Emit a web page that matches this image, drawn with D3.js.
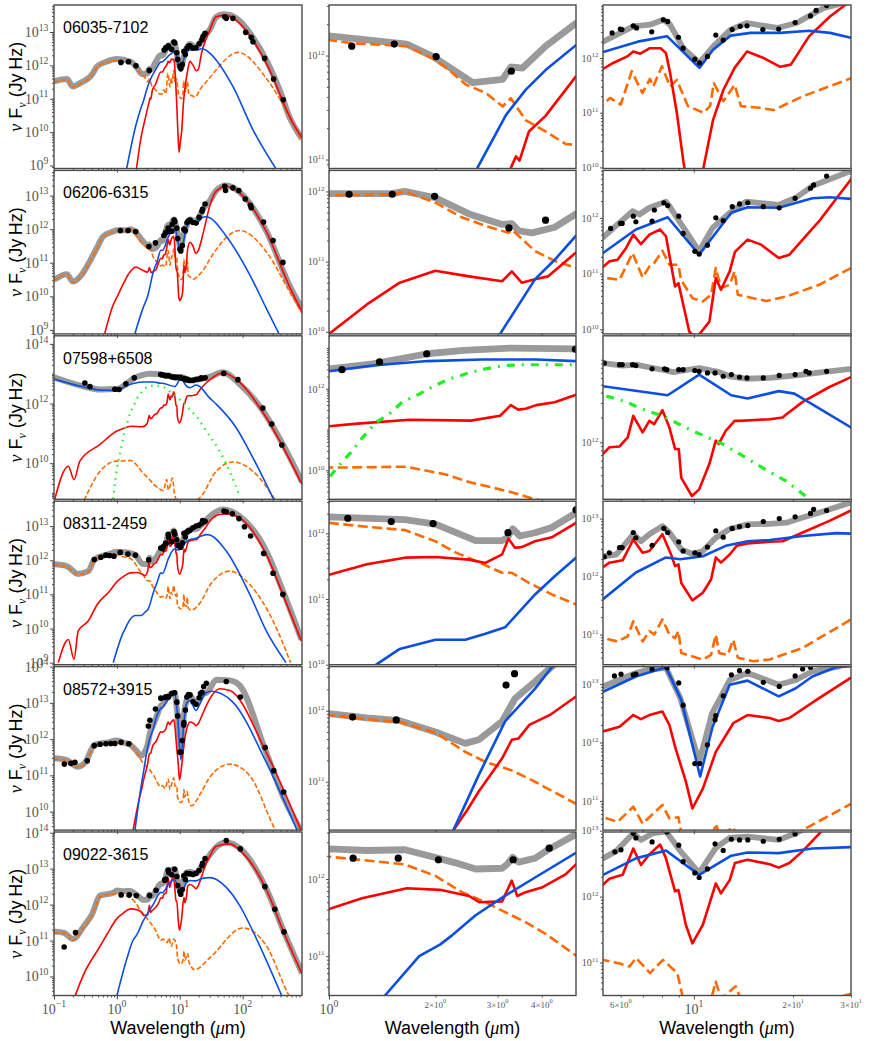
<!DOCTYPE html>
<meta charset="utf-8">
<style>
  body{margin:0;background:#fff}
  svg{display:block}
  .lbl{font-family:"Liberation Sans",Arial,sans-serif;fill:#000}
  .tk{font-family:"Liberation Serif",serif;fill:#555}
</style>
<svg width="872" height="1041"></svg>
<script src="https://d3js.org/d3.v7.min.js"></script>
<script>
// every series: [wavelength (micron), log10 nuFnu (Jy Hz)]
// 06035-7102
const tot06035 = [[0.1,11.52],[0.16,11.59],[0.2,11.37],[0.26,11.47],[0.4,11.72],[0.48,11.96],[0.68,12.11],[1.0,12.19],[1.66,12.11],[1.97,11.99],[2.55,11.74],[3.1,11.77],[3.27,11.89],[3.53,11.88],[4.1,12.09],[5.0,12.31],[5.3,12.30],[6.55,12.58],[7.36,12.61],[8.08,12.70],[8.47,12.61],[9.28,12.18],[10.4,11.91],[11.44,12.21],[12.93,12.52],[14.5,12.64],[17.9,12.55],[20.5,12.64],[24.7,12.91],[27,12.97],[30,13.07],[38,13.45],[50,13.53],[60,13.52],[90,13.33],[150,12.8],[238,12.16],[400,11.2],[557,10.45],[880,9.8]]
const gal06035 = [[0.1,11.50],[0.16,11.57],[0.2,11.35],[0.26,11.45],[0.4,11.70],[0.48,11.94],[0.68,12.09],[1.0,12.15],[1.15,12.12],[1.66,12.09],[1.97,11.97],[2.19,11.86],[2.44,11.72],[2.78,11.64],[3.1,11.51],[3.27,11.59],[3.6,11.38],[4.1,11.27],[4.67,11.15],[5.0,11.14],[5.3,11.15],[5.57,11.27],[6.0,11.15],[6.48,11.76],[6.98,11.36],[7.36,11.62],[7.53,11.48],[8.0,11.85],[8.47,11.48],[8.88,11.60],[9.6,11.12],[10.7,11.0],[11.2,11.12],[11.5,11.54],[12.3,11.21],[13.3,11.51],[13.9,11.12],[15.8,11.09],[17.5,11.05],[21.4,11.30],[30,11.63],[38,11.87],[84.5,12.39],[237,11.62],[557,10.47],[880,9.72]]
const sb06035 = [[2.05,8.9],[2.4,9.8],[2.9,10.5],[3.27,10.92],[3.38,11.03],[3.46,10.99],[3.68,11.27],[4.1,11.42],[5.0,11.80],[5.3,11.80],[5.69,11.91],[6.28,12.03],[6.55,12.12],[6.88,12.08],[7.36,12.18],[7.93,12.18],[8.23,12.09],[8.47,11.73],[8.88,11.0],[9.3,10.1],[9.75,9.4],[10.2,9.7],[10.7,10.0],[11.44,10.87],[12.3,11.42],[13.3,11.82],[14.5,12.12],[16.3,12.0],[18.3,11.84],[19.7,11.88],[22.4,12.40],[25.9,12.76],[28.8,12.97],[38,13.46],[55,13.51],[89.6,13.26],[238,12.07],[630,10.27],[880,9.83]]
const agn06035 = [[1.43,8.9],[2.0,10.2],[2.32,10.62],[2.63,10.92],[3.17,11.43],[3.6,11.67],[4.1,11.86],[5.0,12.10],[5.3,12.11],[6.76,12.30],[8.29,12.40],[10.4,11.82],[11.44,12.15],[12.93,12.41],[14.85,12.46],[18.3,12.46],[22.4,12.50],[25.9,12.46],[30,12.37],[70,11.37],[146,10.07],[340,8.9]]
const dat06035 = [[1.16,12.09],[1.53,12.11],[2.01,11.99],[3.28,11.85],[5.65,12.46],[5.98,12.53],[6.05,12.52],[6.55,12.59],[6.70,12.55],[7.45,12.48],[8.08,12.70],[8.33,12.67],[8.98,12.38],[9.28,12.18],[10.07,11.98],[10.41,11.91],[11.0,12.03],[11.66,12.42],[12.28,12.33],[13.08,12.52],[13.83,12.58],[14.5,12.59],[16.2,12.52],[18.1,12.53],[20.3,12.65],[22.6,12.77],[23.5,12.87],[25.3,12.96],[51.8,13.46],[55,13.41],[70,13.41],[112,12.99],[137,12.84],[146,12.71],[224,12.21],[311,11.59],[442,10.97]]

// 06206-6315
const tot06206 = [[0.1,10.49],[0.16,10.66],[0.2,10.44],[0.275,10.64],[0.37,11.04],[0.48,11.44],[0.61,11.79],[0.875,11.93],[1.0,11.97],[1.5,11.97],[1.64,12.0],[2.0,11.91],[2.49,11.68],[3.09,11.53],[3.29,11.54],[3.44,11.44],[3.75,11.41],[4.36,11.49],[5.0,11.68],[5.3,11.65],[6.52,12.12],[6.83,12.06],[7.33,12.18],[8.23,12.29],[8.43,12.21],[9.46,11.76],[10.38,11.40],[11.4,11.82],[12.85,12.09],[14.4,12.29],[18.1,12.23],[20.4,12.36],[22.9,12.57],[30,12.84],[38,13.15],[55,13.3],[90,13.1],[238,11.95],[557,10.32],[880,9.62]]
const gal06206 = [[0.1,10.47],[0.16,10.64],[0.2,10.42],[0.275,10.62],[0.37,11.02],[0.48,11.42],[0.61,11.77],[0.875,11.92],[1.0,11.95],[1.15,11.95],[1.52,11.96],[1.64,12.0],[2.0,11.84],[2.38,11.63],[2.77,11.51],[3.22,11.41],[3.3,11.45],[3.83,11.15],[4.36,11.01],[5.0,10.91],[5.3,10.93],[5.95,10.89],[6.52,11.37],[6.99,10.93],[7.33,11.13],[7.58,11.19],[8.03,11.41],[8.43,11.16],[8.98,11.16],[9.14,10.89],[9.9,10.56],[10.65,10.50],[11.28,10.62],[11.66,11.10],[12.09,10.74],[12.85,10.80],[13.3,11.04],[13.6,10.62],[15.15,10.56],[16.6,10.51],[19.1,10.59],[24,10.80],[30,11.10],[38,11.39],[89.6,11.96],[238,11.33],[557,10.14],[880,9.49]]
const sb06206 = [[0.64,8.88],[0.875,9.75],[1.0,9.97],[1.28,10.39],[1.585,10.70],[2.0,10.87],[2.49,10.79],[3.09,10.72],[3.29,10.86],[3.51,10.70],[3.83,10.75],[4.17,10.79],[5.0,11.13],[5.3,11.12],[5.54,11.22],[5.87,11.25],[6.23,11.46],[6.55,11.70],[6.91,11.53],[7.33,11.70],[7.9,11.79],[8.23,11.67],[8.77,10.77],[8.98,10.83],[9.69,9.96],[10.05,9.87],[10.38,9.91],[11.15,10.14],[11.66,10.92],[12.09,10.71],[12.85,11.04],[13.33,11.39],[14.56,11.61],[16.0,11.52],[18.1,11.28],[19.5,11.34],[24,11.94],[30,12.69],[38,13.13],[55,13.28],[89.6,13.08],[238,11.93],[557,10.29],[880,9.54]]
const agn06206 = [[1.93,8.88],[2.63,9.67],[3.05,9.97],[3.83,10.75],[4.36,11.03],[5.0,11.37],[5.3,11.37],[6.67,11.79],[8.33,12.01],[10.38,11.34],[12.99,12.09],[14.56,12.19],[18.1,12.18],[22.9,12.35],[25.8,12.37],[30,12.34],[55,11.79],[130,10.64],[238,9.64],[380,8.88]]
const dat06206 = [[1.14,11.96],[1.51,11.96],[1.99,11.93],[3.23,11.48],[4.1,11.59],[5.59,11.81],[5.99,11.90],[6.06,11.90],[6.55,12.03],[6.67,11.93],[7.47,11.94],[7.59,12.14],[8.11,12.27],[8.33,12.22],[9.0,12.03],[9.28,11.72],[10.07,11.40],[10.38,11.35],[11.0,11.51],[11.66,12.0],[12.28,11.95],[13.08,12.20],[13.76,12.25],[14.58,12.27],[16.25,12.20],[18.17,12.18],[20.3,12.35],[22.6,12.53],[23.1,12.59],[25.3,12.75],[52,13.28],[53.5,13.15],[70,13.23],[87,13.15],[110,12.9],[133,12.71],[137,12.64],[215,12.21],[305,11.66],[437,11.01]]

// 07598+6508
const tot07598 = [[0.1,12.88],[0.29,12.58],[0.54,12.47],[0.93,12.49],[1.0,12.49],[1.33,12.61],[1.9,12.86],[2.4,12.94],[3.27,13.0],[4.98,12.98],[5.3,12.96],[6.08,12.93],[6.67,12.94],[7.5,12.90],[8.23,12.87],[8.67,12.85],[10.38,12.90],[11.94,12.85],[12.85,12.80],[14.4,12.77],[17,12.78],[20.4,12.81],[24.6,12.85],[30,12.89],[48,13.05],[90,12.65],[210,11.76],[437,10.63],[880,9.38]]
const gal07598 = [[0.3,8.75],[0.54,9.73],[1.0,10.07],[1.12,10.07],[1.65,10.09],[2.14,9.90],[2.52,9.70],[3.2,9.49],[3.83,9.29],[4.5,9.18],[5.5,9.08],[6.2,9.45],[6.6,9.1],[7.7,9.5],[8.2,9.0],[10,8.6],[20.7,8.84],[38,9.73],[70,10.04],[146,9.73],[340,8.73]]
const sb07598 = [[0.1,8.7],[0.169,9.90],[0.208,9.45],[0.258,10.07],[0.54,10.63],[1.0,11.08],[1.18,11.14],[1.69,11.24],[2.52,11.22],[3.05,11.34],[3.27,11.60],[3.43,11.49],[3.6,11.51],[3.86,11.60],[4.35,11.67],[4.98,11.85],[5.3,11.86],[5.54,11.94],[5.95,11.95],[6.3,12.06],[6.55,12.32],[6.99,12.12],[7.33,12.26],[7.58,12.22],[8.03,12.39],[8.43,12.18],[8.77,11.92],[9.0,11.92],[9.16,11.57],[9.87,11.35],[10.38,11.43],[11.15,11.74],[11.66,12.02],[11.9,11.98],[12.5,12.14],[13.3,12.26],[13.76,12.26],[17,12.28],[18.6,12.30],[19.1,12.34],[21.4,12.49],[25.8,12.67],[30,12.79],[48,13.03],[90,12.71],[238,11.53],[880,9.29]]
const agn07598 = [[0.1,12.82],[0.29,12.56],[0.54,12.45],[0.93,12.44],[1.0,12.43],[1.33,12.57],[1.9,12.68],[2.71,12.72],[3.86,12.72],[4.98,12.68],[5.3,12.68],[8.33,12.57],[10.38,12.82],[12.99,12.57],[14.56,12.53],[18.1,12.62],[20.2,12.59],[30,12.18],[38,11.98],[79,11.19],[146,10.18],[320,8.73]]
const pol07598 = [[0.875,8.8],[1.0,9.82],[1.075,10.15],[1.154,10.44],[1.24,10.79],[1.36,11.18],[1.48,11.38],[1.61,11.67],[1.81,11.88],[1.99,12.08],[2.19,12.24],[2.49,12.39],[2.77,12.49],[3.12,12.57],[3.51,12.59],[4.35,12.59],[4.98,12.59],[5.54,12.55],[6.23,12.49],[6.99,12.40],[8.03,12.32],[9.9,12.14],[12.23,11.98],[13.76,11.86],[15.43,11.74],[17,11.64],[19.1,11.53],[21.2,11.39],[26.5,11.08],[43,10.41],[62,9.73],[90,8.89]]
const dat07598 = [[0.31,12.69],[0.373,12.57],[0.93,12.48],[1.088,12.47],[1.39,12.66],[1.89,12.86],[4.98,12.97],[5.35,12.96],[5.95,12.94],[6.06,12.94],[6.52,12.94],[6.67,12.93],[7.47,12.89],[8.15,12.89],[8.28,12.88],[9.0,12.88],[9.28,12.88],[10.07,12.87],[10.38,12.86],[11.0,12.84],[11.6,12.84],[12.28,12.80],[13.0,12.82],[13.76,12.79],[14.5,12.78],[16.25,12.78],[18.17,12.81],[20.3,12.82],[21.9,12.86],[22.4,12.84],[25.3,12.86],[50,13.01],[84,12.80],[210,11.85],[290,11.31],[420,10.61]]

// 08311-2459
const tot08311 = [[0.1,11.88],[0.159,11.83],[0.24,11.60],[0.35,11.68],[0.44,12.02],[0.72,12.17],[1.0,12.25],[1.134,12.24],[1.64,12.21],[2.0,12.14],[2.6,11.89],[3.09,11.89],[3.19,11.93],[3.31,12.07],[3.47,11.96],[3.83,12.01],[4.27,12.09],[5.0,12.31],[5.3,12.35],[5.81,12.38],[6.55,12.73],[6.91,12.61],[7.33,12.73],[8.03,12.87],[8.43,12.76],[9.16,12.47],[9.9,12.39],[10.65,12.44],[11.66,12.67],[12.85,12.82],[14.56,12.90],[17,12.91],[19.1,12.93],[21.4,13.02],[24,13.10],[30,13.28],[48.5,13.49],[89.6,13.29],[238,12.27],[437,11.10],[860,9.68]]
const gal08311 = [[0.1,11.86],[0.159,11.81],[0.24,11.58],[0.35,11.66],[0.44,12.0],[0.72,12.15],[1.0,12.16],[1.28,12.10],[1.64,12.05],[2.0,11.88],[2.28,11.71],[2.6,11.58],[3.09,11.40],[3.29,11.40],[3.67,11.25],[4.27,11.07],[5.0,10.92],[5.3,10.94],[5.87,10.88],[6.3,10.97],[6.55,11.23],[6.99,10.88],[7.33,11.06],[7.58,11.0],[8.03,11.26],[8.43,11.0],[8.77,10.94],[8.98,11.06],[9.16,10.68],[10.65,10.57],[11.28,10.65],[11.66,11.0],[11.94,10.68],[12.68,10.65],[13.17,10.91],[13.6,10.60],[15.15,10.54],[17,10.57],[21.4,10.77],[30,11.26],[62.7,11.68],[130,11.29],[305,10.22],[580,9.0]]
const sb08311 = [[0.117,9.0],[0.169,9.68],[0.208,9.10],[0.243,9.93],[0.35,10.22],[0.49,10.71],[0.77,11.10],[1.0,11.37],[1.28,11.53],[1.64,11.63],[2.0,11.64],[2.49,11.60],[2.77,11.55],[3.09,11.68],[3.22,11.92],[3.36,11.78],[3.51,11.79],[3.83,11.88],[4.27,11.94],[5.0,12.16],[5.3,12.16],[5.54,12.24],[6.08,12.28],[6.55,12.64],[6.99,12.41],[7.33,12.44],[8.03,12.73],[8.53,12.38],[8.77,12.18],[8.98,12.21],[9.16,11.89],[9.9,11.59],[10.65,11.72],[11.28,11.95],[11.66,12.33],[12.09,12.24],[12.85,12.38],[13.49,12.53],[14.56,12.57],[17,12.60],[18.6,12.61],[21.4,12.76],[25.8,12.96],[30,13.14],[43,13.34],[55,13.36],[89.6,13.24],[238,12.17],[437,11.0],[860,9.63]]
const agn08311 = [[0.875,9.0],[1.26,9.88],[1.36,10.0],[1.585,10.24],[2.0,10.38],[2.43,10.38],[2.77,10.47],[3.15,10.57],[3.83,11.07],[4.36,11.35],[5.0,11.63],[5.3,11.61],[6.67,12.07],[8.23,12.33],[9.1,12.30],[10.65,12.35],[12.5,12.53],[14.56,12.61],[17,12.63],[21.4,12.70],[27,12.75],[30,12.74],[55,12.27],[130,11.0],[238,9.93],[490,9.0]]
const dat08311 = [[0.437,12.02],[0.557,12.09],[0.67,12.15],[0.77,12.14],[0.9,12.12],[1.13,12.23],[1.50,12.18],[1.97,12.15],[3.21,12.01],[5.0,12.36],[5.35,12.34],[5.54,12.41],[5.95,12.50],[6.06,12.50],[6.55,12.76],[6.67,12.67],[7.47,12.54],[8.11,12.83],[8.33,12.76],[9.0,12.60],[9.28,12.44],[10.07,12.41],[10.38,12.38],[11.0,12.51],[11.66,12.79],[12.28,12.68],[13.08,12.83],[13.76,12.86],[14.58,12.88],[16.25,12.95],[18.17,13.0],[20.3,13.03],[22.6,13.09],[23.1,13.16],[25.3,13.14],[50.5,13.44],[55,13.42],[68.5,13.36],[87.5,13.22],[107,12.98],[134,12.71],[216,12.2],[305,11.62],[437,11.0]]

// 08572+3915
const tot08572 = [[0.1,11.47],[0.159,11.42],[0.24,11.24],[0.32,11.38],[0.44,11.84],[0.72,11.91],[1.0,11.96],[1.28,11.90],[1.585,11.86],[2.0,11.70],[2.43,11.54],[2.65,11.59],[3.09,11.85],[3.36,12.17],[3.83,12.41],[4.27,12.62],[5.0,12.92],[5.3,12.96],[6.67,13.19],[7.3,13.25],[8.23,13.28],[9.1,12.76],[10.38,11.67],[11.36,12.50],[12.85,13.07],[14.56,13.19],[18.1,12.99],[20.4,13.07],[22.9,13.22],[27,13.29],[30,13.38],[38,13.64],[62.7,13.62],[89.6,13.48],[226,11.73],[437,10.43],[860,9.46]]
const gal08572 = [[0.1,11.45],[0.159,11.40],[0.24,11.22],[0.32,11.36],[0.44,11.82],[0.72,11.89],[1.0,11.94],[1.28,11.88],[1.585,11.84],[2.0,11.69],[2.43,11.42],[2.77,11.28],[3.29,11.16],[3.83,11.0],[5.0,10.69],[5.3,10.72],[5.87,10.64],[6.55,10.90],[6.99,10.61],[7.33,10.72],[8.03,10.93],[8.43,10.70],[8.98,10.72],[9.2,10.4],[10.5,10.25],[11.4,10.4],[11.66,10.61],[12.0,10.4],[13.17,10.55],[13.6,10.35],[15.3,10.16],[21.4,10.50],[30,10.95],[62.7,11.31],[130,10.99],[340,9.46],[500,9.0]]
const sb08572 = [[1.8,9.46],[2.25,10.32],[2.46,10.6],[2.65,10.86],[3.09,11.33],[3.29,11.59],[3.44,11.61],[3.69,11.80],[4.22,11.94],[5.0,12.20],[5.3,12.19],[5.95,12.27],[6.55,12.47],[6.91,12.40],[7.33,12.47],[8.03,12.53],[8.43,12.30],[8.8,11.90],[9.46,11.33],[9.9,10.87],[10.65,11.21],[11.66,11.84],[13.17,12.33],[14.56,12.47],[17,12.42],[18.1,12.37],[19.5,12.42],[24,12.76],[30,13.11],[43,13.39],[62.7,13.34],[238,11.63],[860,9.46]]
const agn08572 = [[1.93,9.46],[2.25,10.32],[2.65,11.09],[3.15,11.85],[3.83,12.31],[4.27,12.61],[5.0,12.85],[5.3,12.87],[6.67,13.13],[8.23,13.29],[9.16,12.73],[10.45,11.42],[11.4,12.27],[12.85,12.99],[14.56,13.06],[18.1,12.79],[20.4,12.93],[22.9,13.13],[27,13.29],[32,13.32],[70,13.02],[238,11.36],[745,9.46]]
const dat08572 = [[0.146,11.31],[0.186,11.33],[0.215,11.36],[0.338,11.40],[0.437,11.82],[0.54,11.86],[0.67,11.87],[0.8,11.88],[0.93,11.88],[1.166,11.91],[1.55,11.87],[3.17,12.36],[3.35,12.52],[4.11,12.83],[4.99,13.13],[5.74,13.14],[6.01,13.17],[6.55,13.16],[6.67,13.17],[7.47,13.26],[8.29,13.28],[9.0,13.02],[9.28,12.64],[10.07,11.64],[10.42,11.64],[11.0,11.96],[11.6,12.39],[11.66,12.46],[12.28,12.80],[13.0,13.16],[13.76,13.23],[14.58,13.22],[16.25,13.03],[18.17,12.96],[20.3,13.14],[21.4,13.26],[22.6,13.29],[24,13.45],[26.5,13.54],[55,13.59],[92,13.16],[228,11.77],[313,11.13],[450,10.54]]

// 09022-3615
const tot09022 = [[0.1,11.25],[0.145,11.21],[0.2,11.04],[0.295,11.39],[0.4,11.72],[0.54,12.25],[0.875,12.33],[1.0,12.39],[1.28,12.37],[1.64,12.38],[2.0,12.28],[2.28,12.21],[2.6,12.13],[3.09,12.14],[3.19,12.19],[3.31,12.28],[3.44,12.22],[3.83,12.27],[4.2,12.39],[5.0,12.58],[5.3,12.58],[5.81,12.69],[6.55,12.96],[6.91,12.86],[7.5,12.96],[8.23,12.99],[9.1,12.69],[10.38,12.36],[11.66,12.74],[12.85,12.89],[14.56,12.91],[18.1,12.86],[20.4,12.96],[23,13.1],[26.5,13.25],[30,13.38],[38,13.6],[55,13.73],[90,13.57],[238,12.44],[455,11.24],[880,10.09]]
const gal09022 = [[0.1,11.22],[0.159,11.2],[0.2,11.0],[0.295,11.36],[0.4,11.68],[0.54,12.21],[0.875,12.30],[1.0,12.29],[1.64,12.19],[2.0,12.04],[2.38,11.83],[2.77,11.70],[3.09,11.59],[3.6,11.44],[4.1,11.29],[5.03,11.0],[5.3,11.04],[6.0,10.98],[6.38,10.94],[6.68,11.07],[7.36,10.84],[8.06,11.04],[8.91,10.84],[9.23,10.5],[10.3,10.35],[11.3,10.45],[11.65,10.71],[12.1,10.45],[13.4,10.64],[14,10.4],[17.3,10.19],[31.7,10.56],[100,11.35],[233,10.88],[520,9.54],[700,9.1]]
const sb09022 = [[0.217,9.46],[0.295,10.05],[0.54,10.84],[0.69,11.16],[1.0,11.61],[1.24,11.75],[1.66,11.88],[2.06,11.86],[2.49,11.78],[2.66,11.70],[3.09,11.71],[3.29,11.98],[3.41,11.78],[3.6,11.83],[4.0,11.89],[4.67,12.06],[5.0,12.19],[5.3,12.18],[5.54,12.27],[6.08,12.33],[6.55,12.73],[6.91,12.48],[7.33,12.64],[7.9,12.79],[8.23,12.58],[8.77,12.08],[8.98,12.10],[9.46,11.57],[9.9,11.29],[10.65,11.57],[11.66,12.20],[12.09,12.05],[12.85,12.25],[13.33,12.51],[14.56,12.56],[17,12.49],[18.1,12.44],[19.5,12.51],[21.4,12.69],[24.5,13.0],[30,13.35],[38,13.62],[62.7,13.69],[100,13.44],[238,12.42],[455,11.21],[880,10.07]]
const agn09022 = [[1.0,9.46],[1.44,10.49],[1.8,11.0],[2.06,11.15],[2.23,11.27],[2.6,11.53],[3.09,11.76],[3.83,12.02],[5.0,12.34],[5.3,12.33],[6.67,12.58],[8.23,12.70],[10.38,12.33],[12.99,12.62],[14.56,12.67],[18.1,12.66],[22.9,12.73],[30,12.75],[55,12.48],[89.6,11.98],[155,11.16],[420,9.46]]
const dat09022 = [[0.145,10.82],[0.22,11.22],[1.17,12.27],[1.57,12.27],[2.04,12.25],[3.32,12.25],[4.2,12.40],[5.76,12.68],[6.01,12.71],[6.55,12.96],[6.67,12.89],[7.47,12.83],[8.29,12.98],[9.0,12.78],[9.28,12.53],[10.07,12.36],[10.38,12.29],[11.0,12.42],[11.6,12.80],[12.28,12.70],[13.0,12.87],[13.76,12.86],[14.58,12.86],[16.25,12.84],[18.17,12.87],[20.3,12.95],[22.6,13.08],[23.1,13.15],[25.3,13.28],[55,13.78],[92,13.55],[226,12.5],[325,11.87],[455,11.24]]

const names = ['06035-7102', '06206-6315', '07598+6508', '08311-2459', '08572+3915', '09022-3615']
const seds = [
  {total: tot06035, host: gal06035, sb: sb06035, agn: agn06035, polar: null, obs: dat06035},
  {total: tot06206, host: gal06206, sb: sb06206, agn: agn06206, polar: null, obs: dat06206},
  {total: tot07598, host: gal07598, sb: sb07598, agn: agn07598, polar: pol07598, obs: dat07598},
  {total: tot08311, host: gal08311, sb: sb08311, agn: agn08311, polar: null, obs: dat08311},
  {total: tot08572, host: gal08572, sb: sb08572, agn: agn08572, polar: null, obs: dat08572},
  {total: tot09022, host: gal09022, sb: sb09022, agn: agn09022, polar: null, obs: dat09022}
]

// y limits (log10) per row, for the three columns
const yLims = [
  [[8.91, 13.81], [10.914, 12.486], [9.98, 12.97]],
  [[8.88, 13.75], [9.97, 12.30], [9.92, 12.85]],
  [[8.79, 14.27], [9.29, 13.30], [11.31, 13.29]],
  [[8.94, 13.73], [10.0, 12.49], [10.48, 13.30]],
  [[9.49, 14.0], [10.32, 12.62], [10.50, 13.30]],
  [[9.47, 14.02], [10.49, 12.61], [10.50, 12.98]]
]
const yLabelStep = [1, 1, 2, 1, 1, 1]

// layout
const cols = [
  {x0: 54, x1: 302, dom: [0.1, 880], maj: [0.1, 1, 10, 100],
   min: [0.2,0.3,0.4,0.5,0.6,0.7,0.8,0.9,2,3,4,5,6,7,8,9,20,30,40,50,60,70,80,90,200,300,400,500,600,700,800],
   labels: [[0.1,'',-1,1],[1,'',0,1],[10,'',1,1],[100,'',2,1]]},
  {x0: 329, x1: 576, dom: [1, 5], maj: [1], min: [2, 3, 4],
   labels: [[1,'',0,1],[2,'2×',0,0],[3,'3×',0,0],[4,'4×',0,0]]},
  {x0: 603, x1: 851, dom: [5.3, 30], maj: [10], min: [6, 7, 8, 9, 20, 30],
   labels: [[6,'6×',0,0],[10,'',1,1],[20,'2×',1,0],[30,'3×',1,0]]}
]
const rowTop = 5, rowStep = 165.4, rowH = 163.5
const colStyle = [
  {gray: 6, lw: 1.6, dash: '5,2.2', r: 2.8, green: '1.5,5', fs: 14},
  {gray: 6.8, lw: 2.6, dash: '10,4.5', r: 3.6, green: '8,7,2,7', fs: 10},
  {gray: 5.8, lw: 2.6, dash: '10,4.5', r: 2.6, green: '8,7,2,7', fs: 10}
]
const serif = '"Liberation Serif", serif'

const svg = d3.select('svg')

function powLabel(sel, pre, e, fs) {
  sel.text(null)
  sel.append('tspan').text(pre + '10')
  sel.append('tspan').attr('dy', -0.45 * fs).attr('font-size', fs * 0.7)
    .text(e < 0 ? '\u2212' + (-e) : e)
}

seds.forEach((s, r) => {
  const top = rowTop + r * rowStep
  cols.forEach((c, ci) => {
    const st = colStyle[ci]
    const lim = yLims[r][ci]
    const x = d3.scaleLog().domain(c.dom).range([c.x0, c.x1])
    const y = d3.scaleLog().domain([10 ** lim[0], 10 ** lim[1]]).range([top + rowH, top])
    const id = 'clip' + r + ci
    svg.append('clipPath').attr('id', id).append('rect')
      .attr('x', c.x0).attr('y', top).attr('width', c.x1 - c.x0).attr('height', rowH)

    const plot = svg.append('g').attr('clip-path', 'url(#' + id + ')')
    const line = d3.line().x(d => x(d[0])).y(d => y(10 ** d[1]))
      .curve(ci === 0 ? d3.curveMonotoneX : d3.curveLinear)
    const draw = (data, color, w, dash) => {
      if (!data) return
      plot.append('path').datum(data).attr('d', line)
        .attr('fill', 'none').attr('stroke', color).attr('stroke-width', w)
        .attr('stroke-linejoin', 'round').attr('stroke-dasharray', dash || null)
    }
    draw(s.total, '#9a9a9a', st.gray)
    draw(s.host, '#ff6a00', st.lw, st.dash)
    draw(s.sb, '#ff0000', st.lw)
    draw(s.agn, '#0b4fe0', st.lw)
    draw(s.polar, '#22ee22', st.lw + 0.6, st.green)
    plot.selectAll('circle').data(s.obs).join('circle')
      .attr('cx', d => x(d[0])).attr('cy', d => y(10 ** d[1])).attr('r', st.r).attr('fill', '#000')

    // frame
    svg.append('rect').attr('x', c.x0).attr('y', top).attr('width', c.x1 - c.x0).attr('height', rowH)
      .attr('fill', 'none').attr('stroke', '#4a4a4a').attr('stroke-width', 1.4)

    // y axis
    const yMaj = [], yMin = []
    for (let e = Math.floor(lim[0]) - 1; e <= Math.ceil(lim[1]); e++) {
      if (e >= lim[0] - 0.025 && e <= lim[1] + 0.025) {
        if (e % yLabelStep[r] === 0) yMaj.push(10 ** e); else yMin.push(10 ** e)
      }
      for (let k = 2; k <= 9; k++) {
        const v = k * 10 ** e
        if (Math.log10(v) > lim[0] && Math.log10(v) < lim[1]) yMin.push(v)
      }
    }
    const ya = svg.append('g').attr('transform', 'translate(' + c.x0 + ',0)').style('color', '#4a4a4a')
    ya.append('g').call(d3.axisLeft(y).tickValues(yMin).tickSize(2).tickFormat(''))
    const ym = ya.append('g').call(d3.axisLeft(y).tickValues(yMaj).tickSize(ci === 0 ? 4 : 3)
      .tickPadding(1.5).tickFormat(''))
    ya.selectAll('.domain').remove()
    ym.attr('font-family', serif).attr('font-size', st.fs)
    ym.selectAll('.tick text').attr('class', 'tk').each(function (v) {
      powLabel(d3.select(this), '', Math.round(Math.log10(v)), st.fs)
    })

    // x axis
    const xa = svg.append('g').attr('transform', 'translate(0,' + (top + rowH) + ')').style('color', '#4a4a4a')
    xa.append('g').call(d3.axisBottom(x).tickValues(c.min).tickSize(2).tickFormat(''))
    xa.append('g').call(d3.axisBottom(x).tickValues(c.maj).tickSize(4).tickFormat(''))
    xa.selectAll('.domain').remove()
    if (r === seds.length - 1) {
      c.labels.forEach(([v, pre, e, big]) => {
        const fs = big ? 14 : 9
        const t = xa.append('text').attr('class', 'tk').attr('x', x(v)).attr('y', big ? 18 : 12)
          .attr('text-anchor', 'middle').attr('font-size', fs)
        powLabel(t, pre, e, fs)
      })
    }
  })

  // galaxy name
  svg.append('text').attr('class', 'lbl').attr('x', cols[0].x0 + 9).attr('y', top + 28)
    .attr('font-size', 16).text(names[r])

  // y title
  const yt = svg.append('text').attr('class', 'lbl').attr('font-size', 18).attr('text-anchor', 'middle')
    .attr('transform', 'translate(22,' + (top + rowH / 2) + ') rotate(-90)')
  yt.append('tspan').attr('font-family', serif).attr('font-style', 'italic').text('\u03bd')
  yt.append('tspan').text(' F')
  yt.append('tspan').attr('font-family', serif).attr('font-style', 'italic').attr('font-size', 12)
    .attr('dy', 4).text('\u03bd')
  yt.append('tspan').attr('dy', -4).text(' (Jy\u2009Hz)')
})

// x titles
cols.forEach(c => {
  const t = svg.append('text').attr('class', 'lbl').attr('font-size', 18).attr('text-anchor', 'middle')
    .attr('x', (c.x0 + c.x1) / 2).attr('y', 1034)
  t.append('tspan').text('Wavelength (')
  t.append('tspan').attr('font-family', serif).attr('font-style', 'italic').text('\u03bc')
  t.append('tspan').text('m)')
})
</script>
